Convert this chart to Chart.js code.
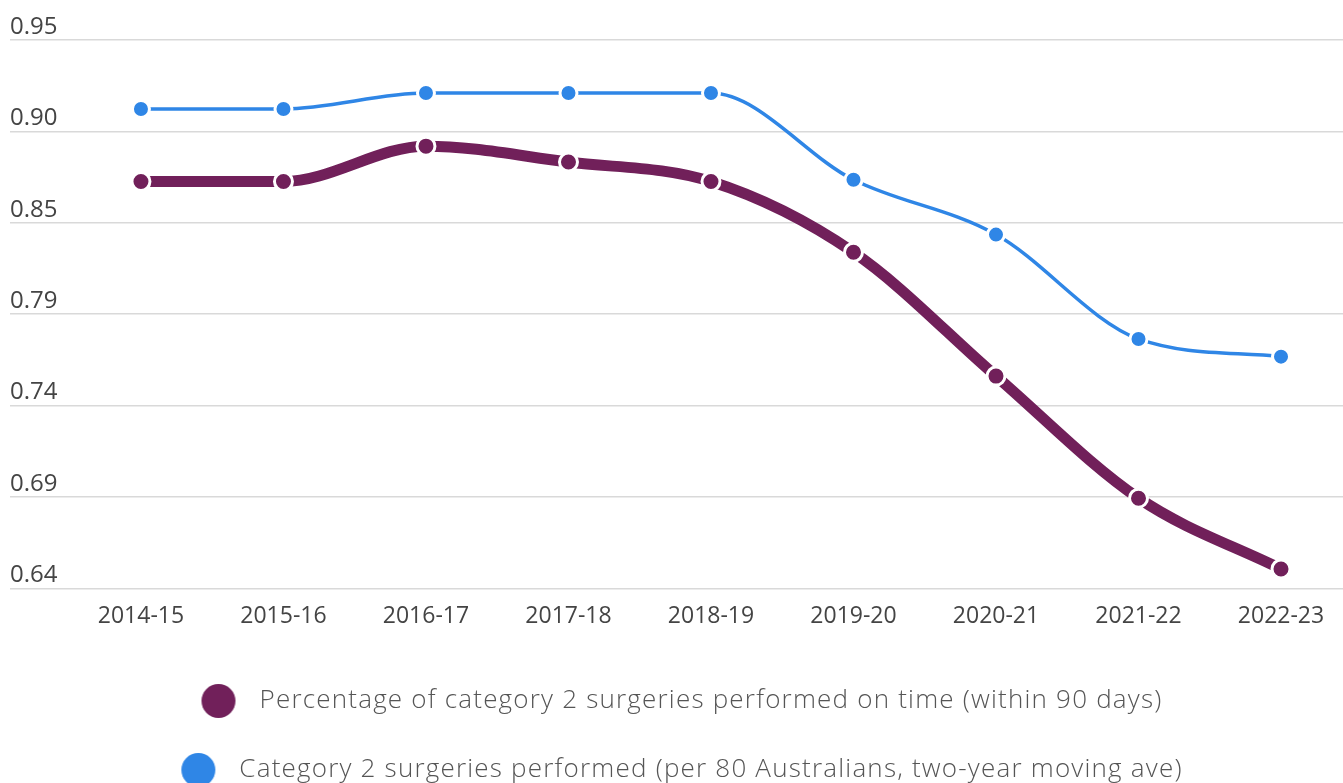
<!DOCTYPE html>
<html>
<head>
<meta charset="utf-8">
<script src="https://cdn.jsdelivr.net/npm/chart.js@4.4.1/dist/chart.umd.min.js"></script>
<style>
  html, body { margin: 0; padding: 0; background: #ffffff; overflow: hidden; }
  #wrap { position: relative; width: 1343px; height: 793px; }
</style>
</head>
<body>
<div id="wrap"><canvas id="c"></canvas></div>
<script>
const categories = ['2014-15', '2015-16', '2016-17', '2017-18', '2018-19', '2019-20', '2020-21', '2021-22', '2022-23'];
const onTimeShare = [0.870, 0.870, 0.890, 0.881, 0.870, 0.830, 0.760, 0.691, 0.651];
const performedPer80 = [0.911, 0.911, 0.920, 0.920, 0.920, 0.871, 0.840, 0.781, 0.771];
const seriesNames = [
  'Percentage of category 2 surgeries performed on time (within 90 days)',
  'Category 2 surgeries performed (per 80 Australians, two-year moving ave)'
];
const seriesColors = ['#71205a', '#2f86e6'];
const yMin = 0.64, yMax = 0.95;

function legendDot(color) {
  const c = document.createElement('canvas');
  c.width = 36; c.height = 36;
  const g = c.getContext('2d');
  g.fillStyle = color;
  g.beginPath(); g.arc(18, 18, 17, 0, Math.PI * 2); g.fill();
  return c;
}
const dots = seriesColors.map(legendDot);

const toPoints = arr => arr.map((v, i) => ({ x: i, y: v }));

const legendSpacing = {
  id: 'legendSpacing',
  beforeLayout(chart) {
    const lg = chart.legend;
    if (lg && !lg._spacingPatched) {
      lg._spacingPatched = true;
      const f = lg.fit.bind(lg), d = lg.draw.bind(lg);
      lg.fit = function () { const c = chart.ctx; c.save(); c.letterSpacing = '1.2px'; f(); c.restore(); };
      lg.draw = function (a) { const c = chart.ctx; c.save(); c.letterSpacing = '1.2px'; d(a); c.restore(); };
    }
  }
};

new Chart(document.getElementById('c'), {
  type: 'line',
  plugins: [legendSpacing],
  data: {
    datasets: [
      {
        label: seriesNames[0],
        data: toPoints(onTimeShare),
        borderColor: seriesColors[0],
        backgroundColor: seriesColors[0],
        borderWidth: 11,
        cubicInterpolationMode: 'monotone',
        pointRadius: 9,
        pointBorderWidth: 3,
        pointBorderColor: '#ffffff',
        pointBackgroundColor: seriesColors[0],
        order: 2
      },
      {
        label: seriesNames[1],
        data: toPoints(performedPer80),
        borderColor: seriesColors[1],
        backgroundColor: seriesColors[1],
        borderWidth: 3.5,
        cubicInterpolationMode: 'monotone',
        pointRadius: 8.5,
        pointBorderWidth: 3,
        pointBorderColor: '#ffffff',
        pointBackgroundColor: seriesColors[1],
        order: 1
      }
    ]
  },
  options: {
    responsive: true,
    maintainAspectRatio: false,
    animation: false,
    events: [],
    layout: { autoPadding: false, padding: { left: 10, right: 0, top: 40, bottom: 0 } },
    scales: {
      x: {
        type: 'linear',
        min: -0.919,
        max: 8.435,
        afterBuildTicks: axis => { axis.ticks = categories.map((_, i) => ({ value: i })); },
        afterFit: s => { s.paddingLeft = 0; s.paddingRight = 0; s.height += 1; },
        ticks: {
          callback: v => categories[v],
          font: { family: 'Open Sans', size: 23 },
          color: '#444444',
          padding: 14,
          maxRotation: 0,
          autoSkip: false
        },
        grid: { display: false, drawTicks: false },
        border: { display: false }
      },
      y: {
        min: yMin,
        max: yMax,
        afterBuildTicks: axis => {
          const t = [];
          for (let i = 0; i <= 6; i++) t.push({ value: yMin + (yMax - yMin) * i / 6 });
          axis.ticks = t;
        },
        ticks: {
          mirror: true,
          padding: 0,
          labelOffset: -13,
          callback: v => v.toFixed(2),
          font: { family: 'Open Sans', size: 24 },
          color: '#444444'
        },
        grid: { color: '#d9d9d9', lineWidth: 1.5, drawTicks: false },
        border: { display: false }
      }
    },
    plugins: {
      tooltip: { enabled: false },
      legend: {
        position: 'bottom',
        labels: {
          usePointStyle: true,
          pointStyleWidth: 56,
          boxHeight: 24,
          padding: 43,
          color: '#555555',
          font: { family: 'Open Sans', size: 26, weight: '300' },
          sort: (a, b) => a.datasetIndex - b.datasetIndex,
          generateLabels: chart => {
            const items = Chart.defaults.plugins.legend.labels.generateLabels(chart);
            items.forEach(it => { it.pointStyle = dots[it.datasetIndex]; it.lineWidth = 0; });
            return items;
          }
        }
      }
    }
  }
});
</script>
</body>
</html>
